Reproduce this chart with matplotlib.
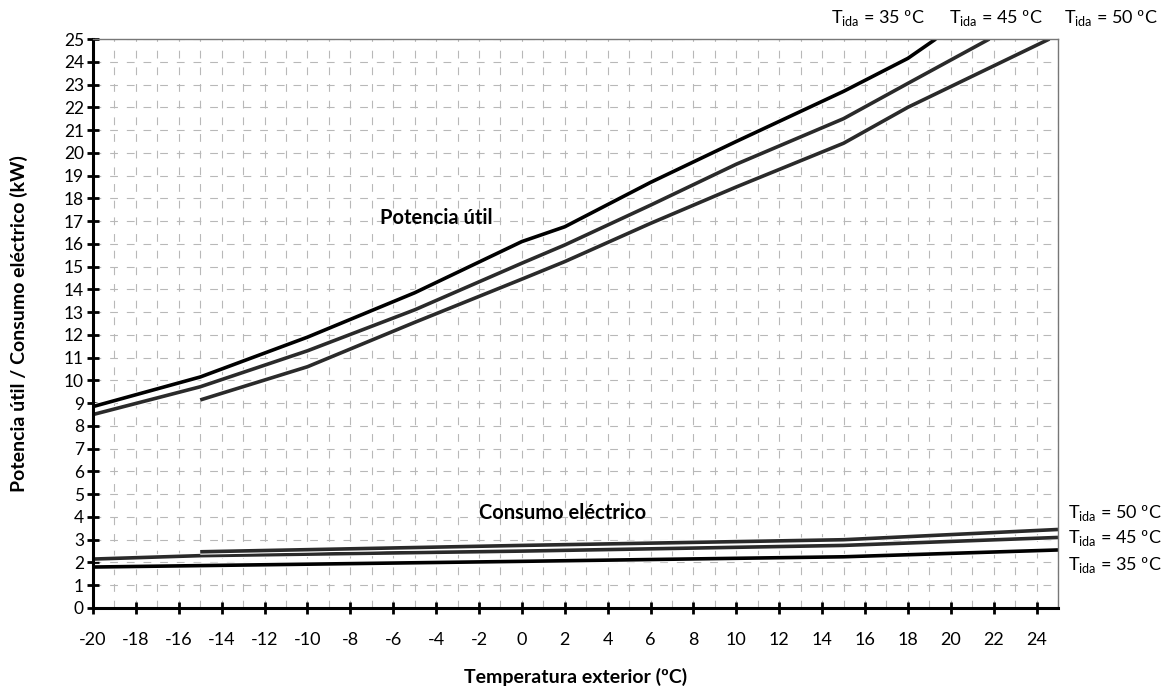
import matplotlib
matplotlib.use("Agg")
import matplotlib.pyplot as plt
import matplotlib.patheffects as pe
import numpy as np

plt.rcParams['font.family'] = ['Lato', 'DejaVu Sans']
plt.rcParams['mathtext.fontset'] = 'custom'
plt.rcParams['mathtext.rm'] = 'Lato'

# potencia util (kW) por temperatura de ida
t_p35 = [-20, -15, -10, -5, 0, 2, 6, 10, 15, 18, 19.3]
p_35 = [8.85, 10.15, 11.9, 13.85, 16.1, 16.75, 18.7, 20.5, 22.7, 24.15, 25.0]
t_p45 = [-20, -15, -10, -5, 0, 2, 6, 10, 15, 18, 21.8]
p_45 = [8.5, 9.72, 11.3, 13.1, 15.15, 15.95, 17.7, 19.5, 21.5, 23.05, 25.0]
t_p50 = [-15, -10, -5, 0, 2, 6, 10, 15, 18, 24.6]
p_50 = [9.14, 10.6, 12.55, 14.45, 15.22, 16.9, 18.5, 20.42, 22.0, 25.0]

# consumo electrico (kW)
t_c35 = [-20, 0, 15, 25]
c_35 = [1.8, 2.05, 2.25, 2.55]
t_c45 = [-20, -15, 0, 15, 25]
c_45 = [2.15, 2.3, 2.5, 2.75, 3.1]
t_c50 = [-15, 0, 15, 25]
c_50 = [2.47, 2.75, 3.0, 3.45]

x_ticks = list(range(-20, 25, 2))
y_ticks = list(range(0, 26))

fig = plt.figure(figsize=(11.69, 7), dpi=100)
ax = fig.add_axes([93/1169, 1-608/700, (1058-93)/1169, (608-39)/700])

ax.set_xlim(-20, 25)
ax.set_ylim(0, 25)

ax.set_xticks(np.arange(-20, 26, 1), minor=True)
ax.grid(True, which='both', color='#b8b8b8', lw=0.8, linestyle=(0, (7, 8)))
ax.set_axisbelow(True)

stroke = [pe.withStroke(linewidth=4.2, foreground='white')]
ax.plot(t_p35, p_35, color='black', lw=2.6, path_effects=stroke, solid_capstyle='butt')
ax.plot(t_p45, p_45, color='#2a2a2a', lw=2.6, path_effects=stroke, solid_capstyle='butt')
ax.plot(t_p50, p_50, color='#2a2a2a', lw=2.6, path_effects=stroke, solid_capstyle='butt')
ax.plot(t_c35, c_35, color='black', lw=2.6, path_effects=stroke, solid_capstyle='butt')
ax.plot(t_c45, c_45, color='#2a2a2a', lw=2.6, path_effects=stroke, solid_capstyle='butt')
ax.plot(t_c50, c_50, color='#2a2a2a', lw=2.6, path_effects=stroke, solid_capstyle='butt')

ax.set_xticks(x_ticks)
ax.set_xticklabels([str(v) for v in x_ticks])
ax.set_yticks(y_ticks)
ax.set_yticklabels([str(v) for v in y_ticks])
ax.tick_params(axis='both', which='major', direction='inout', length=9, width=2,
               labelsize=13, colors='black')
ax.tick_params(axis='x', which='major', pad=13)
ax.tick_params(axis='y', which='major', pad=2, labelsize=12.5)
ax.tick_params(axis='x', which='minor', length=0)
ax.tick_params(top=False, right=False)

for s in ['left', 'bottom']:
    ax.spines[s].set_linewidth(2.2)
    ax.spines[s].set_color('black')
for s in ['top', 'right']:
    ax.spines[s].set_linewidth(1.0)
    ax.spines[s].set_color('#777777')

ax.set_xlabel('Temperatura exterior (ºC)', fontsize=14, fontweight='bold', labelpad=14)
ax.set_ylabel('Potencia útil / Consumo eléctrico (kW)', fontsize=14, fontweight='bold')
ax.yaxis.set_label_coords(-0.067, 0.5)

ax.text(-4.0, 17.15, 'Potencia útil', fontsize=14.5, fontweight='bold', ha='center', va='center')
ax.text(1.9, 4.17, 'Consumo eléctrico', fontsize=14.5, fontweight='bold', ha='center', va='center')

lab = r'T$_{\mathrm{ida}}$ = %d ºC'
for cx, v in [(878, 35), (996, 45), (1111, 50)]:
    fig.text(cx/1169, 1-18/700, lab % v, fontsize=13, ha='center', va='center')
for cy, v in [(513, 50), (538, 45), (565, 35)]:
    fig.text(1068/1169, 1-cy/700, lab % v, fontsize=13, ha='left', va='center')

fig.savefig('out.png', dpi=100)
